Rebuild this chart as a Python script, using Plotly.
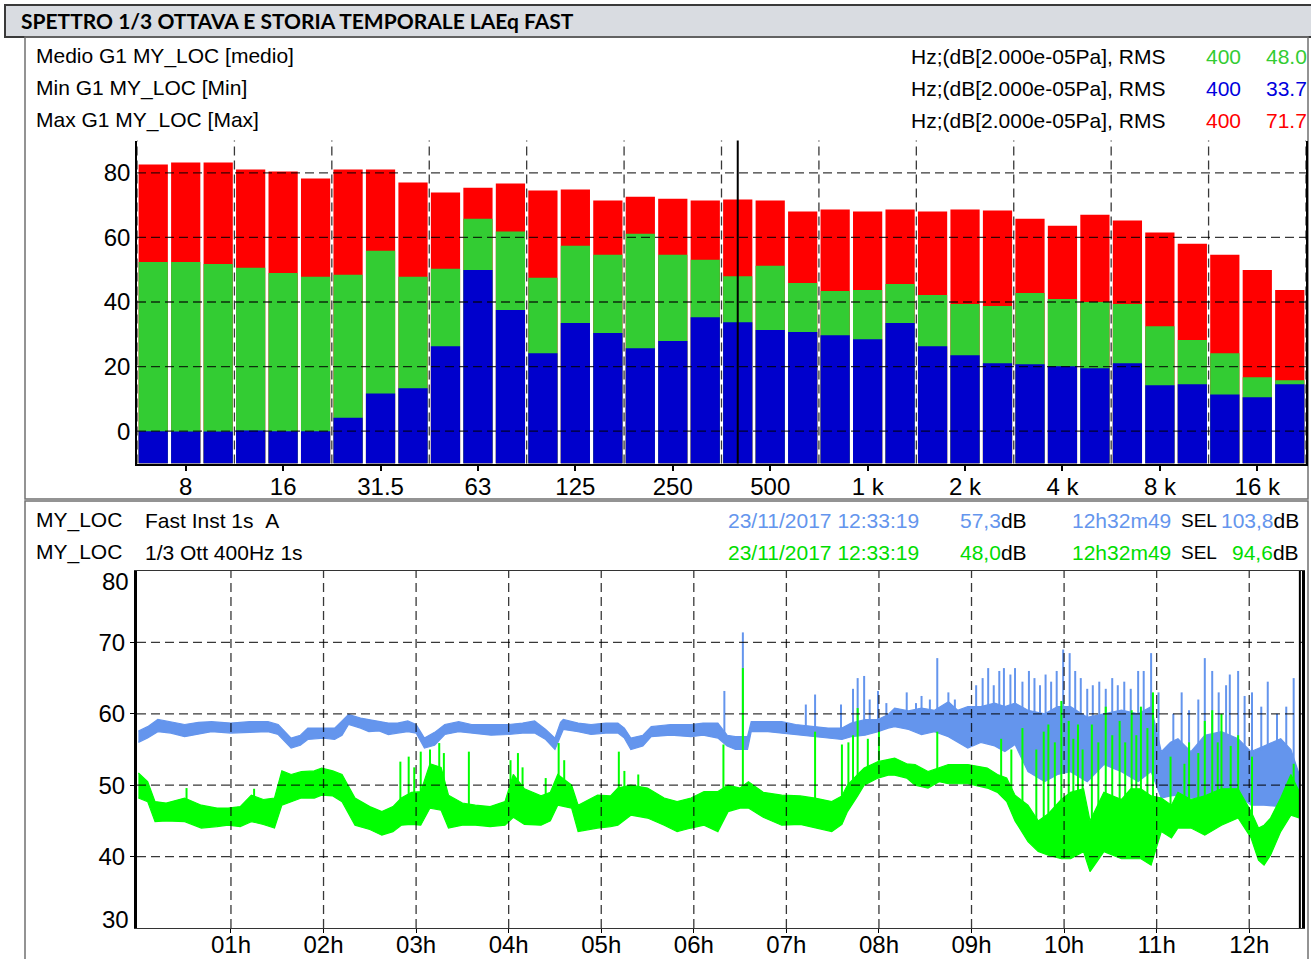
import numpy as np
import plotly.graph_objects as go

W, H = 1311, 959

# ---------------- 1/3 octave spectrum ----------------
bands_hz = [6.3, 8, 10, 12.5, 16, 20, 25, 31.5, 40, 50, 63, 80, 100, 125, 160, 200, 250, 315,
            400, 500, 630, 800, 1000, 1250, 1600, 2000, 2500, 3150, 4000, 5000, 6300, 8000,
            10000, 12500, 16000, 20000]
spec_max = [82.6, 83.2, 83.2, 81.0, 80.4, 78.2, 81.0, 81.0, 77.0, 73.9, 75.4, 76.7, 74.5, 74.8,
            71.4, 72.6, 72.0, 71.4, 71.7, 71.4, 68.0, 68.6, 68.0, 68.6, 68.0, 68.6, 68.3, 65.8,
            63.6, 67.0, 65.2, 61.5, 58.0, 54.6, 49.9, 43.7]
spec_mean = [52.4, 52.4, 51.8, 50.6, 49.0, 47.8, 48.4, 55.9, 47.8, 50.3, 65.8, 61.8, 47.5, 57.4,
             54.6, 61.1, 54.6, 53.1, 48.0, 51.2, 45.9, 43.4, 43.7, 45.6, 42.2, 39.4, 38.8, 42.8,
             40.9, 40.0, 39.4, 32.5, 28.2, 24.1, 16.7, 15.8]
spec_min = [0.0, -0.1, -0.1, 0.2, 0.0, 0.0, 4.2, 11.7, 13.3, 26.3, 49.9, 37.5, 24.1, 33.5, 30.4,
            25.7, 27.9, 35.3, 33.7, 31.3, 30.7, 29.7, 28.5, 33.5, 26.3, 23.5, 21.0, 20.7, 20.1,
            19.5, 21.0, 14.2, 14.5, 11.4, 10.5, 14.5]
spec_tick_bands = [8, 16, 31.5, 63, 125, 250, 500, 1000, 2000, 4000, 8000, 16000]
spec_tick_text = ["8", "16", "31.5", "63", "125", "250", "500", "1 k", "2 k", "4 k", "8 k", "16 k"]
spec_y_ticks = [0, 20, 40, 60, 80]
spec_y_range = [-10, 90]
cursor_band = 400

# ---------------- time history (elapsed hours) ----------------
laeq_t = [0.00, 0.10, 0.21, 0.35, 0.50, 0.65, 0.79, 1.00, 1.20, 1.40, 1.51, 1.65, 1.75, 1.83, 2.00,
          2.12, 2.20, 2.27, 2.40, 2.49, 2.60, 2.70, 2.80, 2.91, 3.00, 3.09, 3.20, 3.31, 3.46, 3.60,
          3.81, 4.00, 4.15, 4.28, 4.40, 4.50, 4.56, 4.59, 4.75, 4.89, 5.05, 5.18, 5.25, 5.32, 5.45,
          5.54, 5.75, 5.97, 6.10, 6.26, 6.36, 6.45, 6.58, 6.62, 6.80, 6.95, 7.10, 7.31, 7.45, 7.60,
          7.70, 7.85, 7.99, 8.10, 8.17, 8.32, 8.46, 8.60, 8.75, 8.85, 8.96, 9.10, 9.25, 9.36, 9.47,
          9.61, 9.79, 9.93, 10.07, 10.25, 10.43, 10.62, 10.80, 10.94, 11.05, 11.15, 11.23, 11.37,
          11.52, 11.70, 11.88, 12.02, 12.16, 12.34, 12.45, 12.54]
laeq_lo = [56.0, 56.6, 57.5, 57.3, 56.8, 57.2, 57.5, 57.3, 57.4, 57.5, 57.1, 55.2, 55.6, 56.4, 56.6,
           56.4, 57.0, 58.5, 58.0, 57.5, 57.6, 57.1, 57.3, 57.5, 57.3, 55.2, 55.6, 57.1, 57.5, 57.3,
           57.0, 57.1, 57.3, 57.3, 56.4, 55.0, 57.0, 57.8, 57.5, 57.1, 57.3, 57.3, 56.6, 55.0, 55.5,
           56.8, 57.0, 56.8, 57.0, 56.6, 55.5, 55.0, 55.0, 57.5, 57.5, 57.3, 57.0, 56.8, 56.6, 56.4,
           56.8, 57.0, 57.5, 58.0, 58.2, 57.8, 57.1, 57.5, 56.8, 56.0, 55.2, 56.0, 55.5, 54.7, 55.7,
           51.9, 50.5, 51.5, 51.9, 50.5, 52.9, 51.9, 50.5, 51.9, 48.2, 48.5, 48.6, 48.2,
           48.2, 47.7, 48.6, 47.2, 47.2, 47.0, 47.7, 46.8]
laeq_hi = [57.6, 58.2, 59.2, 58.9, 58.5, 58.8, 58.9, 58.7, 58.9, 58.9, 58.5, 56.6, 57.0, 58.0, 58.0,
           58.0, 59.0, 59.9, 59.4, 59.2, 58.9, 58.7, 58.7, 59.0, 58.5, 56.6, 57.4, 58.5, 58.9, 58.5,
           58.5, 58.5, 58.7, 59.0, 57.8, 56.6, 58.8, 59.2, 58.7, 58.5, 58.7, 58.7, 58.0, 56.6, 57.0,
           58.2, 58.5, 58.5, 58.7, 58.7, 57.0, 56.8, 56.8, 58.9, 58.9, 58.9, 58.5, 58.2, 58.0, 58.0,
           58.7, 59.2, 59.2, 59.9, 60.8, 60.4, 60.8, 60.5, 61.7, 60.5, 61.0, 61.0, 61.5, 61.0, 61.5,
           60.5, 60.0, 61.0, 61.0, 59.5, 60.0, 60.5, 60.0, 61.0, 54.7, 56.0, 56.5, 54.7,
           57.0, 57.5, 56.5, 54.7, 55.5, 56.5, 55.0, 51.5]
laeq_spike_t = [6.33, 6.53, 7.21, 7.31, 7.59, 7.72, 7.77, 7.84, 7.90, 7.99, 8.08, 8.30, 8.40, 8.46,
                8.55, 8.63, 8.75, 8.82, 9.05, 9.12, 9.18, 9.24, 9.30, 9.35, 9.42, 9.47, 9.55, 9.62,
                9.68, 9.74, 9.80, 9.86, 9.92, 9.99, 10.06, 10.12, 10.18, 10.25, 10.31, 10.38, 10.45,
                10.52, 10.58, 10.65, 10.72, 10.80, 10.86, 10.94, 11.02, 11.18, 11.27, 11.35, 11.45,
                11.52, 11.60, 11.67, 11.75, 11.79, 11.88, 11.95, 12.03, 12.13, 12.20, 12.30, 12.40,
                12.48]
laeq_spike_db = [63.2, 71.4, 61.3, 62.7, 61.3, 63.5, 65.0, 65.3, 62.0, 63.2, 61.5, 63.0, 61.5, 62.5,
                 62.0, 67.8, 63.0, 62.0, 64.0, 65.0, 66.4, 64.0, 66.0, 66.4, 65.5, 66.4, 64.5, 66.0,
                 65.0, 64.0, 65.5, 64.5, 66.0, 69.0, 68.5, 66.0, 65.0, 63.5, 64.0, 64.5, 63.5,
                 65.0, 64.0, 64.5, 63.5, 66.0, 66.0, 68.5, 63.0, 60.0, 63.0, 60.5, 62.0,
                 67.8, 66.0, 63.0, 64.0, 65.5, 66.0, 62.5, 63.0, 61.0, 64.5, 60.0, 61.0,
                 65.0]

oct400_t = [0.00, 0.10, 0.18, 0.30, 0.50, 0.68, 0.85, 0.97, 1.10, 1.22, 1.35, 1.47, 1.55, 1.65, 1.76,
            1.90, 1.98, 2.10, 2.20, 2.34, 2.50, 2.63, 2.75, 2.84, 2.95, 3.05, 3.15, 3.27, 3.35, 3.50,
            3.64, 3.80, 3.96, 4.05, 4.17, 4.35, 4.45, 4.53, 4.68, 4.75, 4.96, 5.10, 5.18, 5.32, 5.50,
            5.68, 5.82, 5.97, 6.11, 6.26, 6.37, 6.50, 6.59, 6.75, 6.95, 7.15, 7.31, 7.49, 7.60, 7.66,
            7.77, 7.84, 7.99, 8.10, 8.17, 8.30, 8.39, 8.53, 8.65, 8.75, 8.96, 9.17, 9.28, 9.38, 9.47,
            9.61, 9.72, 9.83, 9.97, 10.07, 10.21, 10.28, 10.43, 10.62, 10.72, 10.83, 10.94, 11.05,
            11.16, 11.23, 11.37, 11.52, 11.70, 11.88, 12.02, 12.10, 12.16, 12.23, 12.34, 12.45, 12.54]
oct400_lo = [48.2, 47.7, 44.9, 45.0, 44.9, 44.0, 44.2, 44.4, 44.2, 44.9, 44.5, 44.0, 47.2, 47.7, 48.2,
             48.2, 48.6, 48.5, 47.7, 44.4, 43.8, 43.0, 43.5, 44.4, 44.5, 44.4, 46.8, 46.5, 44.0, 44.4,
             44.4, 44.2, 44.4, 45.5, 44.5, 44.4, 45.0, 47.2, 46.8, 43.5, 44.0, 44.2, 44.4, 45.8, 45.4,
             44.4, 43.5, 44.0, 44.4, 43.5, 46.3, 46.8, 46.8, 45.5, 44.4, 44.5, 44.0, 43.5, 44.5, 46.3,
             48.5, 50.0, 51.0, 51.4, 51.4, 51.0, 50.0, 49.6, 50.5, 50.2, 50.2, 49.6, 49.0, 47.7, 45.0,
             42.1, 40.7, 40.2, 39.7, 39.7, 40.7, 37.9, 40.7, 39.7, 39.7, 39.7, 38.8, 43.5,
             42.6, 44.0, 44.0, 43.0, 44.4, 45.4, 42.6, 39.5, 38.8, 40.2, 43.5, 45.8, 45.4]
oct400_hi = [51.7, 50.5, 47.7, 47.5, 48.2, 47.2, 46.8, 46.8, 47.0, 48.6, 48.0, 48.2, 52.0, 51.5, 51.9,
             52.0, 52.4, 52.0, 51.5, 48.2, 47.0, 46.3, 47.0, 48.2, 49.0, 49.1, 53.0, 52.5, 48.6, 47.5,
             47.2, 47.0, 47.7, 51.5, 49.5, 48.5, 49.0, 51.5, 50.0, 47.2, 48.6, 48.5, 49.6, 50.0, 49.6,
             48.2, 47.7, 48.2, 49.1, 49.1, 50.0, 49.6, 50.5, 49.0, 48.6, 48.5, 48.2, 47.7, 48.5, 50.0,
             51.5, 52.4, 53.3, 53.6, 53.8, 53.0, 52.9, 51.9, 52.5, 52.9, 52.9, 52.4, 51.5, 51.0, 48.6,
             47.2, 45.0, 46.0, 48.0, 49.0, 49.5, 45.0, 49.0, 48.0, 49.5, 49.5, 48.5, 48.2,
             47.2, 49.0, 48.0, 48.5, 49.5, 49.5, 46.3, 44.0, 44.4, 45.4, 48.2, 51.5, 49.1]
oct400_spike_t = [0.52, 1.25, 2.83, 2.92, 2.98, 3.05, 3.15, 3.25, 3.30, 3.57, 4.02, 4.10, 4.15, 4.40,
                  4.54, 4.60, 5.19, 5.25, 5.40, 6.32, 6.53, 7.31, 7.60, 7.67, 7.72, 7.77, 7.88, 8.00,
                  8.63, 9.32, 9.43, 9.55, 9.70, 9.78, 9.83, 9.90, 9.97, 10.05, 10.10, 10.15, 10.20,
                  10.30, 10.37, 10.45, 10.52, 10.60, 10.66, 10.73, 10.78, 10.83, 10.90, 10.96, 11.15,
                  11.30, 11.35, 11.45, 11.52, 11.60, 11.66, 11.70, 11.80, 11.88, 12.03, 12.48]
oct400_spike_db = [49.6, 49.5, 53.3, 54.0, 52.5, 54.7, 55.0, 55.9, 54.5, 54.7, 53.5, 54.5, 52.5, 51.0,
                   55.9, 53.5, 54.7, 52.0, 51.5, 55.7, 66.4, 57.5, 55.7, 56.0, 57.0, 60.8, 56.5, 57.5,
                   57.5, 56.5, 55.0, 58.0, 55.0, 57.5, 58.5, 56.0, 61.8, 59.0, 56.5, 58.5, 55.0,
                   58.5, 56.0, 61.0, 57.0, 59.0, 56.0, 60.5, 57.0, 61.0, 58.0, 63.0, 54.0,
                   53.0, 56.0, 54.5, 59.0, 60.5, 56.0, 60.0, 55.5, 57.0, 54.0, 53.0]

hist_hour_ticks = list(range(1, 13))
hist_hour_text = ["01h", "02h", "03h", "04h", "05h", "06h", "07h", "08h", "09h", "10h", "11h", "12h"]
hist_y_ticks = [40, 50, 60, 70]
hist_y_range = [30, 80]
hist_end_h = 12.547  # 12h32m49

# ---------------- styling ----------------
C_MAX, C_MEAN, C_MIN = "#FF0000", "#33CC33", "#0000CC"
C_LAEQ, C_OCT = "#6495ED", "#00FF00"
TXT_FONT = "Liberation Sans"
GRID = dict(color="rgba(0,0,0,0.78)", width=1.3, dash="9px,5px")


def px(x):
    return x / W


def py(y):
    return 1 - y / H


fig = go.Figure()

# ---- spectrum bars (drawn from the bottom of the axis) ----
idx = list(range(len(bands_hz)))
base = spec_y_range[0]
for vals, col, name in [(spec_max, C_MAX, "Max"), (spec_mean, C_MEAN, "Medio"), (spec_min, C_MIN, "Min")]:
    fig.add_trace(go.Bar(
        x=idx, y=[v - base for v in vals], base=base, marker=dict(color=col, line=dict(width=0)),
        width=0.9, name=name, customdata=vals, hovertemplate="%{customdata:.1f} dB<extra>" + name + "</extra>",
        xaxis="x", yaxis="y", showlegend=False))


# ---- time history ----
def add_history(t, lo, hi, st, sdb, col):
    fig.add_trace(go.Scatter(x=t, y=hi, mode="lines", line=dict(color=col, width=1.2),
                             xaxis="x2", yaxis="y2", showlegend=False, hoverinfo="skip"))
    fig.add_trace(go.Scatter(x=t, y=lo, mode="lines", line=dict(color=col, width=1.2), fill="tonexty",
                             fillcolor=col, xaxis="x2", yaxis="y2", showlegend=False, hoverinfo="skip"))
    xs, ys = [], []
    for tt, p in zip(st, sdb):
        b = float(np.interp(tt, t, hi)) - 0.5
        xs += [tt, tt, None]
        ys += [b, p, None]
    fig.add_trace(go.Scatter(x=xs, y=ys, mode="lines", line=dict(color=col, width=2),
                             xaxis="x2", yaxis="y2", showlegend=False, hoverinfo="skip"))


add_history(laeq_t, laeq_lo, laeq_hi, laeq_spike_t, laeq_spike_db, C_LAEQ)
add_history(oct400_t, oct400_lo, oct400_hi, oct400_spike_t, oct400_spike_db, C_OCT)

shapes = []
# title bar and panel frames
shapes.append(dict(type="rect", xref="paper", yref="paper", x0=px(5), x1=px(1312), y0=py(37), y1=py(5),
                   fillcolor="#D9DCE1", line=dict(color="#3a3a3a", width=2), layer="below"))
shapes.append(dict(type="rect", xref="paper", yref="paper", x0=px(25), x1=px(1308), y0=py(499), y1=py(37),
                   line=dict(color="#707070", width=1.5), layer="below"))
shapes.append(dict(type="rect", xref="paper", yref="paper", x0=px(25), x1=px(1308), y0=py(965), y1=py(501),
                   line=dict(color="#707070", width=1.5), layer="below"))

# spectrum grid (above bars)
for v in spec_y_ticks:
    shapes.append(dict(type="line", xref="x domain", yref="y", x0=0, x1=1, y0=v, y1=v, line=GRID, layer="above"))
for k in range(0, len(bands_hz) + 1, 3):
    shapes.append(dict(type="line", xref="x", yref="y domain", x0=k - 0.5, x1=k - 0.5, y0=0, y1=1,
                       line=GRID, layer="above"))
ci = bands_hz.index(cursor_band)
shapes.append(dict(type="line", xref="x", yref="y domain", x0=ci, x1=ci, y0=0, y1=1,
                   line=dict(color="black", width=2), layer="above"))

# history grid
for v in hist_y_ticks:
    shapes.append(dict(type="line", xref="x2 domain", yref="y2", x0=0, x1=1, y0=v, y1=v, line=GRID, layer="above"))
for h in hist_hour_ticks:
    shapes.append(dict(type="line", xref="x2", yref="y2 domain", x0=h, x1=h, y0=0, y1=1, line=GRID, layer="above"))
shapes.append(dict(type="line", xref="x2", yref="y2 domain", x0=hist_end_h, x1=hist_end_h, y0=0, y1=1,
                   line=dict(color="black", width=2), layer="above"))

annotations = []


def ann(text, x, y, anchor="left", color="black", size=21, family=TXT_FONT, **kw):
    annotations.append(dict(text=text, x=px(x), y=py(y), xref="paper", yref="paper", xanchor=anchor,
                            yanchor="middle", showarrow=False,
                            font=dict(family=family, size=size, color=color), **kw))


ann("<b>SPETTRO 1/3 OTTAVA E STORIA TEMPORALE LAEq FAST</b>", 19, 21, size=21, family="Lato")

rows = [("Medio G1 MY_LOC [medio]", C_MEAN, spec_mean), ("Min G1 MY_LOC [Min]", "#0000DD", spec_min),
        ("Max G1 MY_LOC [Max]", C_MAX, spec_max)]
for i, (label, col, vals) in enumerate(rows):
    yy = 56 + 32 * i
    ann(label, 34, yy)
    ann("Hz;(dB[2.000e-05Pa], RMS", 909, yy)
    ann(str(cursor_band), 1243, yy, anchor="right", color=col)
    ann("%.1f" % vals[ci], 1264, yy, color=col)

hist_rows = [("Fast Inst 1s\u00a0\u00a0A", C_LAEQ, "57,3", "103,8"),
             ("1/3 Ott 400Hz 1s", "#00DD00", "48,0", "94,6")]
for i, (label, col, lev, sel) in enumerate(hist_rows):
    yy = 520 + 32 * i
    ann("MY_LOC", 34, yy)
    ann(label, 143, yy)
    ann("23/11/2017 12:33:19", 726, yy, color=col)
    ann("<span style='color:%s'>%s</span>dB" % (col, lev), 1029, yy, anchor="right")
    ann("12h32m49", 1070, yy, color=col)
    ann("SEL", 1179, yy, size=19)
    ann("<span style='color:%s'>%s</span>dB" % (col, sel), 1301, yy, anchor="right")

# extreme y labels of the history axis (kept inside the frame as in the original)
annotations.append(dict(text=str(hist_y_range[1]), x=px(131), y=hist_y_range[1], xref="paper", yref="y2",
                        xanchor="right", yanchor="middle", yshift=-10, showarrow=False,
                        font=dict(family=TXT_FONT, size=24, color="black")))
annotations.append(dict(text=str(hist_y_range[0]), x=px(131), y=hist_y_range[0], xref="paper", yref="y2",
                        xanchor="right", yanchor="middle", yshift=9, showarrow=False,
                        font=dict(family=TXT_FONT, size=24, color="black")))

tickfont = dict(family=TXT_FONT, size=24, color="black")
fig.update_layout(
    width=W, height=H, margin=dict(l=0, r=0, t=0, b=0, autoexpand=False), paper_bgcolor="white",
    plot_bgcolor="white", barmode="overlay", showlegend=False, shapes=shapes, annotations=annotations,
    xaxis=dict(domain=[px(137), px(1306)], range=[-0.5, len(bands_hz) - 0.5], automargin=False,
               tickvals=[bands_hz.index(b) for b in spec_tick_bands], ticktext=spec_tick_text,
               ticks="outside", ticklen=6, tickwidth=1.5, tickcolor="black", tickfont=tickfont,
               ticklabelstandoff=-5,
               showgrid=False, zeroline=False, showline=True, linecolor="black", linewidth=1.5, anchor="y"),
    yaxis=dict(domain=[py(463.5), py(140.5)], range=spec_y_range, tickvals=spec_y_ticks, tickfont=tickfont,
               automargin=False, ticks="", showgrid=False, zeroline=False, showline=True, mirror=True,
               linecolor="black", linewidth=1.5, anchor="x"),
    xaxis2=dict(domain=[px(137), px(1302)], range=[-0.015, 12.57], tickvals=hist_hour_ticks,
                automargin=False, ticktext=hist_hour_text, ticks="outside", ticklen=4, tickcolor="black",
                tickfont=tickfont, ticklabelstandoff=-9, showgrid=False, zeroline=False, showline=True,
                mirror=True, linecolor="#333", linewidth=1.2, anchor="y2"),
    yaxis2=dict(domain=[py(928), py(571)], range=hist_y_range, tickvals=hist_y_ticks, tickfont=tickfont,
                automargin=False, ticks="outside", ticklen=4, tickcolor="black", showgrid=False,
                zeroline=False, showline=True, mirror=True, linecolor="black", linewidth=3, anchor="x2"),
)

fig.write_html("out.html", config={"displayModeBar": False},
               post_script="document.body.style.margin='0';")
